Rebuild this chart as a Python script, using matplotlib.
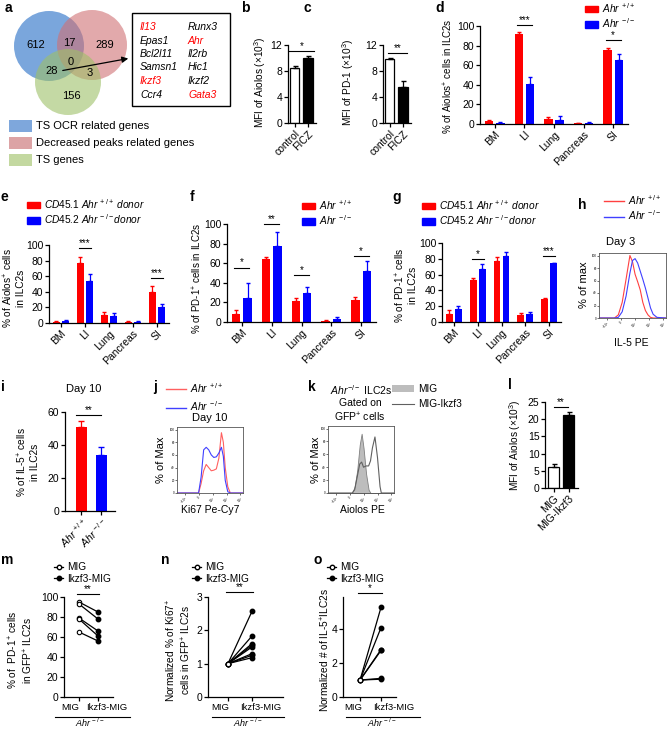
import numpy as np
import matplotlib
matplotlib.use("Agg")
import matplotlib.pyplot as plt
from matplotlib.patches import Circle, Rectangle, Patch
from matplotlib.lines import Line2D

plt.rcParams["font.family"] = ["Liberation Sans", "DejaVu Sans"]
plt.rcParams["mathtext.fontset"] = "custom"
plt.rcParams["mathtext.rm"] = "Liberation Sans"
plt.rcParams["mathtext.it"] = "Liberation Sans:italic"
plt.rcParams["mathtext.bf"] = "Liberation Sans:bold"
plt.rcParams["font.size"] = 7
plt.rcParams["axes.linewidth"] = 0.9

RED = "#ff0000"
BLUE = "#0000ff"

# ---------------- data ----------------
venn_counts = [612, 17, 289, 0, 28, 3, 156]
venn_sets = ["TS OCR related genes", "Decreased peaks related genes", "TS genes"]
genes_left = ["Il13", "Epas1", "Bcl2l11", "Samsn1", "Ikzf3", "Ccr4"]
genes_right = ["Runx3", "Ahr", "Il2rb", "Hic1", "Ikzf2", "Gata3"]
genes_red = ["Il13", "Ikzf3", "Ahr", "Gata3"]

bc_groups = ["control", "FICZ"]
b_mean = [8.5, 10.0]
b_err = [0.3, 0.3]
c_mean = [9.8, 5.6]
c_err = [0.2, 0.8]

tissues = ["BM", "LI", "Lung", "Pancreas", "SI"]
d_wt = [3, 92, 5, 1, 76]
d_wt_err = [0.8, 2, 2, 0.4, 2]
d_ko = [1.5, 41, 4.5, 1.5, 65]
d_ko_err = [0.4, 7, 3.5, 0.6, 6]
d_sig = [(1, 101, "***"), (4, 86, "*")]

e_wt = [1.5, 77, 10, 1.5, 40]
e_wt_err = [0.5, 8, 4, 0.5, 8]
e_ko = [3, 54, 9.5, 1.5, 20]
e_ko_err = [1, 9, 3.5, 0.5, 5]
e_sig = [(1, 96, "***"), (4, 58, "***")]

f_wt = [8.5, 64, 21, 1.5, 22.7]
f_wt_err = [3.5, 2, 3, 0.5, 2.7]
f_ko = [25, 77.6, 29.5, 3, 52]
f_ko_err = [15, 14, 6, 2.4, 10.5]
f_sig = [(0, 55.6, "*"), (1, 99.7, "**"), (2, 48, "*"), (4, 67.5, "*")]

g_wt = [9.8, 53, 76.6, 9.4, 28.5]
g_wt_err = [5, 3, 5.5, 1.6, 1.5]
g_ko = [17, 67, 84, 10.6, 74.5]
g_ko_err = [3.4, 6.6, 4, 2.2, 0.8]
g_sig = [(1, 79.6, "*"), (4, 83, "***")]

# flow histograms (% of max vs log fluorescence decade)
h_x = [0, 1.2, 1.5, 1.8, 2.1, 2.4, 2.6, 2.8, 3.0, 3.2, 3.4, 3.6, 3.8, 4.0, 4.2, 4.5, 5.2]
h_wt = [0, 0, 5, 25, 62, 100, 90, 70, 58, 45, 25, 12, 5, 1, 0, 0, 0]
h_ko = [0, 0, 1, 10, 35, 72, 92, 95, 88, 75, 62, 48, 32, 16, 6, 1, 0]

j_x = [0, 1.7, 1.9, 2.1, 2.3, 2.5, 2.7, 2.9, 3.1, 3.3, 3.5, 3.65, 3.8, 4.0, 4.2, 5.2]
j_wt = [0, 0, 15, 35, 45, 40, 35, 36, 38, 55, 95, 80, 40, 10, 0, 0]
j_ko = [0, 0, 25, 68, 72, 68, 60, 56, 57, 63, 72, 58, 20, 2, 0, 0]

k_x = [0, 1.9, 2.1, 2.3, 2.5, 2.65, 2.8, 3.0, 3.2, 3.35, 3.5, 3.7, 3.9, 4.1, 4.2, 5.2]
k_mig = [0, 0, 10, 35, 75, 92, 70, 30, 5, 0, 0, 0, 0, 0, 0, 0]
k_ikzf3 = [0, 0, 5, 25, 45, 48, 40, 42, 42, 50, 70, 87, 55, 10, 0, 0]

i_mean = [51, 34]
i_err = [3.5, 4.6]

l_groups = ["MIG", "MIG-Ikzf3"]
l_mean = [6.1, 21.2]
l_err = [0.9, 0.8]

pair_groups = ["MIG", "Ikzf3-MIG"]
m_mig = [95, 93, 79, 78, 65]
m_ikzf3 = [85, 78, 66, 61, 56]
n_mig = [1.0, 1.0, 1.0, 1.0, 1.0, 1.0, 1.0, 1.0]
n_ikzf3 = [2.57, 1.83, 1.6, 1.55, 1.5, 1.3, 1.25, 1.18]
o_mig = [1.0, 1.0, 1.0, 1.0, 1.0, 1.0]
o_ikzf3 = [5.3, 4.1, 2.8, 2.75, 1.1, 1.05]

WT = r"$\mathit{Ahr}^{\,+/+}$"
KO = r"$\mathit{Ahr}^{\,-/-}$"
WT_D = r"$\mathit{CD45.1\ Ahr}^{\,+/+}\mathit{\ donor}$"
KO_D = r"$\mathit{CD45.2\ Ahr}^{\,-/-}\mathit{donor}$"

W, H = 667, 729
fig = plt.figure(figsize=(W / 100, H / 100), dpi=100)


def box(x0, y0, x1, y1):
    return fig.add_axes([x0 / W, 1 - y1 / H, (x1 - x0) / W, (y1 - y0) / H])


def ftext(x, y, s, **kw):
    fig.text(x / W, 1 - y / H, s, **kw)


def letter(x, y, s):
    ftext(x, y, s, fontsize=10, fontweight="bold", ha="center", va="center")


def ylab(x, y, s, size=7.3):
    ftext(x, y, s, rotation=90, ha="center", va="center", fontsize=size, linespacing=1.1)


def style(ax):
    ax.spines["top"].set_visible(False)
    ax.spines["right"].set_visible(False)
    ax.tick_params(direction="out", length=3, width=0.9, labelsize=7.5, pad=1)


def sig(ax, x0, x1, y, s):
    ax.plot([x0, x1], [y, y], color="k", lw=0.8, clip_on=False)
    ax.text((x0 + x1) / 2, y, s, ha="center", va="bottom", fontsize=7)


def legend(handles, labels, x, y, **kw):
    opts = dict(loc="upper left", bbox_to_anchor=(x / W, 1 - y / H), frameon=False,
                fontsize=7.3, handlelength=1.3, handleheight=0.6, handletextpad=0.4,
                labelspacing=0.15, borderpad=0, borderaxespad=0)
    opts.update(kw)
    fig.legend(handles, labels, **opts)


def grouped(ax, wt, wt_err, ko, ko_err, sigs):
    x = np.arange(len(tissues))
    off, w = 0.19, 0.28
    ax.bar(x - off, wt, w, color=RED)
    ax.bar(x + off, ko, w, color=BLUE)
    ax.errorbar(x - off, wt, yerr=[np.zeros(len(wt)), wt_err], fmt="none",
                ecolor=RED, capsize=1.5, elinewidth=0.9)
    ax.errorbar(x + off, ko, yerr=[np.zeros(len(ko)), ko_err], fmt="none",
                ecolor=BLUE, capsize=1.5, elinewidth=0.9)
    ax.set_xlim(-0.5, len(tissues) - 0.5)
    ax.set_ylim(0, 100)
    ax.set_yticks(range(0, 101, 20))
    ax.set_xticks(x)
    ax.set_xticklabels(tissues, rotation=45, ha="right", rotation_mode="anchor")
    for gx, gy, s in sigs:
        sig(ax, gx - 0.25, gx + 0.25, gy, s)
    style(ax)


def flow(ax):
    ax.set_xlim(0, 5.2)
    ax.set_ylim(0, 104)
    ax.set_yticks(range(0, 101, 20))
    ax.set_xticks([0.6, 1.7, 2.8, 3.9, 5.0])
    ax.set_xticklabels([r"$-10^3$", "0", r"$10^3$", r"$10^4$", r"$10^5$"], rotation=45)
    ax.tick_params(labelsize=2.2, length=1.2, width=0.4, pad=0.5)
    for sp in ax.spines.values():
        sp.set_linewidth(0.6)
        sp.set_color("#555555")


# ---------------- a: Venn ----------------
ax = box(0, 0, 240, 170)
ax.set_xlim(0, 240)
ax.set_ylim(170, 0)
ax.axis("off")
venn_centers = [(49, 46), (92, 45), (68, 82)]
venn_r = [35, 35, 33]
venn_fill = ["#216bc5", "#d07073", "#9ec067"]
for (cx, cy), r, col in zip(venn_centers, venn_r, venn_fill):
    ax.add_patch(Circle((cx, cy), r, facecolor=col, alpha=0.6, edgecolor="none"))
num_pos = [(36, 45), (69, 43), (105, 45), (71, 62), (52, 71), (90, 73), (71, 96)]
for (px, py), n in zip(num_pos, venn_counts):
    ax.text(px, py, str(n), ha="center", va="center", fontsize=8)
ax.add_patch(Rectangle((132, 13), 98, 93, facecolor="white", edgecolor="k", lw=1))
for i, (gl, gr) in enumerate(zip(genes_left, genes_right)):
    yy = 27 + i * 13.5
    ax.text(140, yy, gl, style="italic", fontsize=7.5, va="center",
            color=RED if gl in genes_red else "k")
    ax.text(188, yy, gr, style="italic", fontsize=7.5, va="center",
            color=RED if gr in genes_red else "k")
ax.annotate("", xy=(131, 58), xytext=(60, 71),
            arrowprops=dict(arrowstyle="-|>", color="k", lw=0.9, mutation_scale=9))
leg_cols = ["#7ea7dc", "#dca3a5", "#c3d8a0"]
for i, (name, col) in enumerate(zip(venn_sets, leg_cols)):
    yy = 126 + i * 17
    ax.add_patch(Rectangle((9, yy - 6), 23, 12, facecolor=col, edgecolor="none"))
    ax.text(36, yy, name, fontsize=8, va="center")
letter(8, 8, "a")

# ---------------- b, c ----------------
for (x0, x1), mean, err, lab, lx, sline, stxt, lett in [
        ((288, 316), b_mean, b_err, "b", 260, (-0.45, 1.45, 11.1), "*", (245, 8)),
        ((383, 411), c_mean, c_err, "c", 348, (-0.15, 1.3, 10.8), "**", (307, 8))]:
    ax = box(x0, 45, x1, 123)
    xx = np.arange(2)
    ax.bar(xx, mean, 0.68, color=["white", "black"], edgecolor="k", linewidth=0.9)
    ax.errorbar(xx, mean, yerr=[np.zeros(2), err], fmt="none", ecolor="k",
                capsize=1.8, elinewidth=0.9)
    ax.set_xlim(-0.5, 1.6)
    ax.set_ylim(0, 12)
    ax.set_yticks([0, 4, 8, 12])
    ax.set_xticks(xx)
    ax.set_xticklabels(bc_groups, rotation=45, ha="right", rotation_mode="anchor")
    style(ax)
    sig(ax, sline[0], sline[1], sline[2], stxt)
    ylab(lx, 82, r"MFI of Aiolos ($\times$10$^3$)" if lab == "b" else r"MFI of PD-1 ($\times$10$^3$)")
    letter(lett[0], lett[1], lab)

# ---------------- d ----------------
ax = box(480, 26, 628, 124)
grouped(ax, d_wt, d_wt_err, d_ko, d_ko_err, d_sig)
ylab(448, 76, r"% of Aiolos$^{+}$ cells in ILC2s", size=7)
legend([Patch(color=RED), Patch(color=BLUE)], [WT, KO], 585, 1)
letter(440, 8, "d")

# ---------------- e ----------------
ax = box(49, 245, 169, 323)
grouped(ax, e_wt, e_wt_err, e_ko, e_ko_err, e_sig)
ylab(14, 288, "% of Aiolos$^{+}$ cells\nin ILC2s")
legend([Patch(color=RED), Patch(color=BLUE)], [WT_D, KO_D], 27, 197)
letter(4, 197, "e")

# ---------------- f ----------------
ax = box(227, 224, 376, 322)
grouped(ax, f_wt, f_wt_err, f_ko, f_ko_err, f_sig)
ylab(197, 278, r"% of PD-1$^{+}$ cells in ILC2s", size=7)
legend([Patch(color=RED), Patch(color=BLUE)], [WT, KO], 302, 198)
letter(192, 197, "f")

# ---------------- g ----------------
ax = box(442, 243, 561, 322)
grouped(ax, g_wt, g_wt_err, g_ko, g_ko_err, g_sig)
ylab(406, 285, "% of PD-1$^{+}$ cells\nin ILC2s")
legend([Patch(color=RED), Patch(color=BLUE)], [WT_D, KO_D], 422, 198)
letter(397, 197, "g")

# ---------------- h ----------------
ax = box(599, 253, 666, 318)
ax.plot(h_x, h_wt, color="#ff4040", lw=0.8)
ax.plot(h_x, h_ko, color="#4040ff", lw=0.8)
flow(ax)
ftext(621, 242, "Day 3", ha="center", va="center", fontsize=8)
ftext(631, 343, "IL-5 PE", ha="center", va="center", fontsize=7.5)
ylab(584, 285, "% of max", size=8)
legend([Line2D([0], [0], color="#ff4040", lw=1.0), Line2D([0], [0], color="#4040ff", lw=1.0)],
       [WT, KO], 604, 193, handlelength=2.0)
letter(582, 205, "h")

# ---------------- i ----------------
ax = box(65, 412, 115, 511)
xx = np.arange(2)
ax.bar(xx, i_mean, 0.55, color=[RED, BLUE])
ax.errorbar(xx[:1], i_mean[:1], yerr=[[0], i_err[:1]], fmt="none", ecolor=RED,
            capsize=2, elinewidth=0.9)
ax.errorbar(xx[1:], i_mean[1:], yerr=[[0], i_err[1:]], fmt="none", ecolor=BLUE,
            capsize=2, elinewidth=0.9)
ax.set_xlim(-0.8, 1.7)
ax.set_ylim(0, 60)
ax.set_yticks([0, 20, 40, 60])
ax.set_xticks(xx)
ax.set_xticklabels([WT, KO], rotation=45, ha="right", rotation_mode="anchor")
style(ax)
sig(ax, -0.25, 1.0, 58, "**")
ftext(84, 389, "Day 10", ha="center", va="center", fontsize=8)
ylab(28, 462, "% of IL-5$^{+}$ cells\nin ILC2s")
letter(3, 387, "i")

# ---------------- j ----------------
ax = box(177, 427, 243, 493)
ax.plot(j_x, j_wt, color="#ff6060", lw=0.8)
ax.plot(j_x, j_ko, color="#4040ff", lw=0.8)
flow(ax)
ftext(210, 418, "Day 10", ha="center", va="center", fontsize=8)
ftext(210, 510, "Ki67 Pe-Cy7", ha="center", va="center", fontsize=7.5)
ylab(161, 460, "% of Max", size=8)
legend([Line2D([0], [0], color="#ff6060", lw=1.0), Line2D([0], [0], color="#4040ff", lw=1.0)],
       [WT, KO], 166, 381, handlelength=2.0, labelspacing=0.45)
letter(155, 387, "j")

# ---------------- k ----------------
ax = box(328, 426, 394, 493)
ax.fill_between(k_x, k_mig, color="#bdbdbd", edgecolor="#808080", lw=0.6)
ax.plot(k_x, k_ikzf3, color="#606060", lw=0.8)
flow(ax)
ftext(330, 390, r"$\mathit{Ahr}^{-/-}$ ILC2s", ha="left", va="center", fontsize=7.5)
ftext(360, 403, "Gated on", ha="center", va="center", fontsize=7.5)
ftext(360, 417, "GFP$^{+}$ cells", ha="center", va="center", fontsize=7.5)
ftext(362, 510, "Aiolos PE", ha="center", va="center", fontsize=7.5)
ylab(316, 460, "% of Max", size=8)
legend([Patch(facecolor="#bdbdbd", edgecolor="none"), Line2D([0], [0], color="#606060", lw=0.8)],
       ["MIG", "MIG-Ikzf3"], 392, 384, handlelength=2.2, labelspacing=0.5)
letter(312, 387, "k")

# ---------------- l ----------------
ax = box(545, 402, 578, 488)
xx = np.arange(2)
ax.bar(xx, l_mean, 0.73, color=["white", "black"], edgecolor="k", linewidth=0.9)
ax.errorbar(xx, l_mean, yerr=[np.zeros(2), l_err], fmt="none", ecolor="k",
            capsize=1.8, elinewidth=0.9)
ax.set_xlim(-0.57, 1.63)
ax.set_ylim(0, 25)
ax.set_yticks(range(0, 26, 5))
ax.set_xticks(xx)
ax.set_xticklabels(l_groups, rotation=45, ha="right", rotation_mode="anchor")
style(ax)
sig(ax, 0.0, 0.95, 23.5, "**")
ylab(515, 445, r"MFI of Aiolos ($\times$10$^3$)")
letter(510, 385, "l")


# ---------------- m, n, o ----------------
def paired(box_px, mig, ikzf3, ylim, yticks, xlim, sig_y, sig_txt, label_x):
    ax = box(*box_px)
    for a, b in zip(mig, ikzf3):
        ax.plot([0, 1], [a, b], color="k", lw=0.9)
    ax.plot(np.zeros(len(mig)), mig, "o", mfc="white", mec="k", ms=3.2, mew=0.8)
    ax.plot(np.ones(len(ikzf3)), ikzf3, "o", mfc="k", mec="k", ms=3.2)
    ax.set_xlim(*xlim)
    ax.set_ylim(*ylim)
    ax.set_yticks(yticks)
    ax.set_xticks([0, 1])
    ax.set_xticklabels([])
    # group names sit beside the tick marks, so they go on minor ticks
    ax.set_xticks(label_x, minor=True)
    ax.set_xticklabels(pair_groups, minor=True, fontsize=6.8)
    style(ax)
    ax.tick_params(axis="x", which="minor", length=0, pad=4)
    sig(ax, -0.1, 1.05, sig_y, sig_txt)
    return ax


mig_h = [Line2D([0], [0], color="k", lw=0.9, marker="o", mfc="white", mec="k", ms=3.2),
         Line2D([0], [0], color="k", lw=0.9, marker="o", mfc="k", ms=3.2)]

paired((64, 597, 113, 697), m_mig, m_ikzf3, (0, 100), range(0, 101, 20),
       (-0.79, 1.79), 103, "**", [-0.45, 1.45])
ylab(21, 650, "% of  PD-1$^{+}$ cells\nin GFP$^{+}$ ILC2s")
legend(mig_h, pair_groups, 54, 562, handlelength=0.9)
letter(7, 560, "m")

paired((208, 597, 283, 697), n_mig, n_ikzf3, (0, 3), [0, 1, 2, 3],
       (-0.83, 2.29), 3.14, "**", [-0.3, 1.37])
ylab(179, 650, "Normalized % of Ki67$^{+}$\ncells in GFP$^{+}$ ILC2s")
legend(mig_h, pair_groups, 192, 562, handlelength=0.9)
letter(165, 560, "n")

paired((343, 597, 396, 697), o_mig, o_ikzf3, (0, 5.9), [0, 2, 4],
       (-0.81, 1.71), 6.15, "*", [-0.33, 1.6])
ylab(325, 650, "Normalized # of IL-5$^{+}$ILC2s")
legend(mig_h, pair_groups, 327, 562, handlelength=0.9)
letter(318, 560, "o")

for x0, x1, xc in [(55, 130, 90), (212, 284, 248), (346, 420, 382)]:
    fig.add_artist(Line2D([x0 / W, x1 / W], [1 - 717 / H, 1 - 717 / H], color="k", lw=0.8))
    ftext(xc, 723, KO, ha="center", va="center", fontsize=6.5)

fig.savefig("out.png", dpi=100)
